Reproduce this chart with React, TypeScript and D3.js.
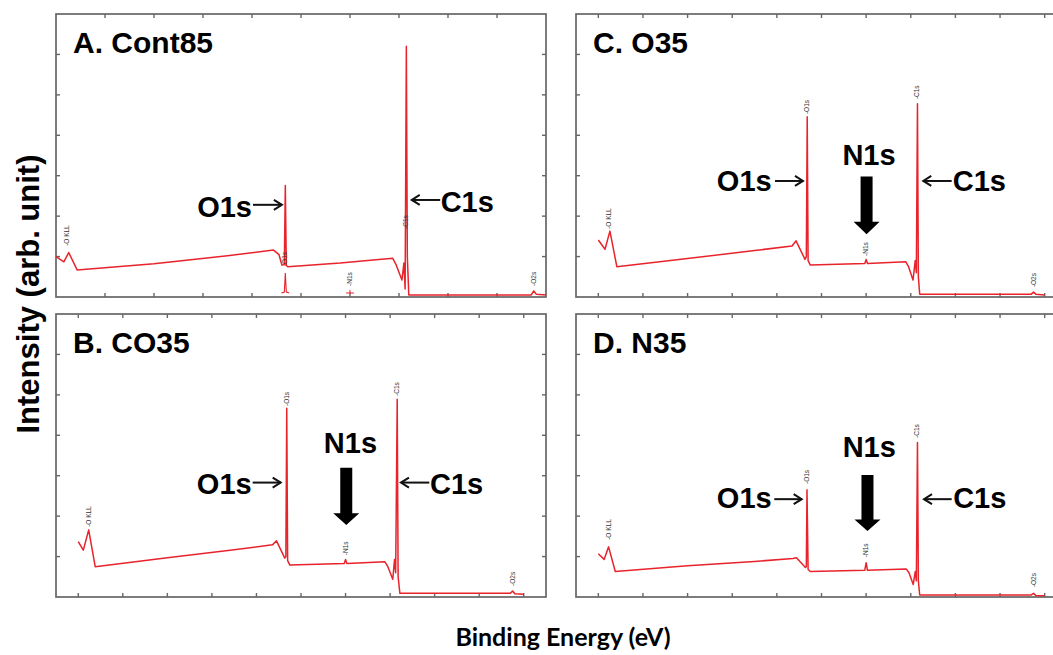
import React from "react";
import * as d3 from "d3";

type Pt = [number, number];

// ---- Data: [binding energy (eV), intensity (arb.)] ----
const specA: Pt[] = [
  [1000, 1.0], [984, 0.87], [974, 1.1], [957, 0.67], [800, 0.82], [650, 1.02], [556, 1.16], [545, 1.05],
  [539, 0.79], [534, 0.8], [532, 2.76], [530, 0.78], [527, 0.75], [420, 0.84], [313, 0.96], [306, 0.8],
  [294, 0.42], [290, 0.84], [287.5, 0.2], [285, 6.2], [283, 1.0], [280, 0.05], [30, 0.05], [25, 0.15],
  [20, 0.07], [0, 0.05],
];
const markA1: Pt[] = [[540, 0.1], [534, 0.12], [532, 0.59], [530, 0.12], [524, 0.1]];
const markA2: Pt[] = [[408, 0.1], [400, 0.1], [400, 0.17], [400, 0.1], [392, 0.1]];

const specB: Pt[] = [
  [1000, 1.37], [988.7, 1.16], [976.6, 1.66], [962, 0.75], [800, 0.97], [650, 1.17], [564, 1.29], [555, 1.39],
  [536.5, 0.96], [534, 1.0], [532, 4.67], [530, 0.9], [525, 0.79], [403, 0.83], [400, 0.93], [397, 0.83],
  [311.5, 0.87], [305, 0.75], [294, 0.44], [290, 0.93], [287.5, 0.6], [284, 4.89], [282, 0.5], [278, 0.09],
  [30, 0.09], [25, 0.15], [20, 0.08], [0, 0.07],
];

const specC: Pt[] = [
  [1000, 1.41], [985, 1.18], [974, 1.63], [958.5, 0.75], [800, 0.95], [650, 1.15], [566, 1.26], [557, 1.39],
  [537, 0.93], [534, 1.0], [532, 4.46], [530, 0.9], [525, 0.79], [403, 0.83], [400, 0.93], [397, 0.83],
  [311, 0.87], [305, 0.75], [295, 0.42], [290, 0.9], [287.5, 0.6], [285, 4.78], [283, 0.5], [280, 0.07],
  [30, 0.07], [25, 0.12], [20, 0.07], [0, 0.05],
];

const specD: Pt[] = [
  [1000, 1.07], [987, 0.93], [977, 1.24], [962, 0.63], [800, 0.77], [650, 0.88], [564, 0.95], [556, 0.97],
  [536, 0.73], [534, 0.75], [532.5, 2.65], [530, 0.68], [525, 0.63], [403, 0.66], [400, 0.85], [397, 0.66],
  [310, 0.69], [304, 0.6], [294.5, 0.31], [290, 0.63], [287.5, 0.4], [285, 3.82], [283, 0.4], [280, 0.05],
  [30, 0.05], [25, 0.09], [20, 0.04], [0, 0.03],
];

const peakNames = ["O KLL", "O1s", "N1s", "C1s", "O2s"];
const peakEnergies = [977, 532, 400, 285, 25];
const labelLevelA = [1.24, 0.74, 0.25, 1.66, 0.25];
const labelLevelB = [1.71, 4.7, 1.01, 4.95, 0.25];
const labelLevelC = [1.66, 4.5, 0.99, 4.87, 0.22];
const labelLevelD = [1.39, 2.77, 0.96, 3.91, 0.22];

const titles = ["A. Cont85", "B. CO35", "C. O35", "D. N35"];
const beTicks = [0, 100, 200, 300, 400, 500, 600, 700, 800, 900, 1000];
const intensityTicks = [1, 2, 3, 4, 5, 6];

// annotation anchors in data units
type Ann = {
  o1s: { textE: number; textI: number; arrowFrom: number; arrowTo: number; arrowI: number };
  c1s: { textE: number; textI: number; arrowFrom: number; arrowTo: number; arrowI: number };
  n1s: null | { textE: number; textI: number; arrowE: number; topI: number; neckI: number; tipI: number };
};
const annA: Ann = {
  o1s: { textE: 600, textI: 1.99, arrowFrom: 598, arrowTo: 539, arrowI: 2.28 },
  c1s: { textE: 215, textI: 2.11, arrowFrom: 216, arrowTo: 274, arrowI: 2.4 },
  n1s: null,
};
const annB: Ann = {
  o1s: { textE: 610.7, textI: 2.56, arrowFrom: 608.5, arrowTo: 545.6, arrowI: 2.83 },
  c1s: { textE: 210.5, textI: 2.56, arrowFrom: 212, arrowTo: 275.6, arrowI: 2.83 },
  n1s: { textE: 389, textI: 3.57, arrowE: 398.4, topI: 3.2, neckI: 2.07, tipI: 1.78 },
};
const annC: Ann = {
  o1s: { textE: 611.6, textI: 2.63, arrowFrom: 604.2, arrowTo: 541.5, arrowI: 2.87 },
  c1s: { textE: 206, textI: 2.63, arrowFrom: 208.4, arrowTo: 272, arrowI: 2.87 },
  n1s: { textE: 393.6, textI: 3.27, arrowE: 399, topI: 2.98, neckI: 1.86, tipI: 1.55 },
};
const annD: Ann = {
  o1s: { textE: 611.6, textI: 2.19, arrowFrom: 605.8, arrowTo: 544.4, arrowI: 2.42 },
  c1s: { textE: 205, textI: 2.19, arrowFrom: 208.4, arrowTo: 270.4, arrowI: 2.42 },
  n1s: { textE: 393, textI: 3.47, arrowE: 397, topI: 3.02, neckI: 1.92, tipI: 1.63 },
};

// ---- Layout ----
const W = 1053;
const H = 655;
const frames = [
  { x0: 56, x1: 546, y0: 14, y1: 297, dom: [1000, 0] },
  { x0: 56, x1: 546, y0: 314, y1: 597, dom: [1050, -50] },
  { x0: 576, x1: 1067, y0: 14, y1: 297, dom: [1050, -50] },
  { x0: 576, x1: 1067, y0: 314, y1: 597, dom: [1050, -50] },
];
const RED = "#e8232b";
const FRAME = "#666";
const BOLD = "'Liberation Sans', Arial, sans-serif";

function Arrow({ x1, x2, y }: { x1: number; x2: number; y: number }) {
  const dir = x2 > x1 ? 1 : -1;
  return (
    <g stroke="#111" strokeWidth={2} fill="none">
      <line x1={x1} y1={y} x2={x2} y2={y} />
      <path d={`M${x2 - dir * 8},${y - 5} L${x2},${y} L${x2 - dir * 8},${y + 5}`} />
    </g>
  );
}

function Panel({ idx, spec, marks, levels, ann }: { idx: number; spec: Pt[]; marks: Pt[][]; levels: number[]; ann: Ann }) {
  const f = frames[idx];
  const x = d3.scaleLinear().domain(f.dom).range([f.x0, f.x1]);
  const y = d3.scaleLinear().domain([0, 7]).range([f.y1, f.y0]);
  const line = d3.line<Pt>().x((d) => x(d[0])).y((d) => y(d[1]));
  const tl = 4;
  const xt = beTicks.filter((t) => x(t) > f.x0 + 1 && x(t) < f.x1 - 1);
  const n = ann.n1s;
  let bigArrow: React.ReactNode = null;
  if (n) {
    const cx = x(n.arrowE);
    const top = y(n.topI), neck = y(n.neckI), tip = y(n.tipI);
    bigArrow = (
      <path
        d={`M${cx - 6},${top} L${cx + 6},${top} L${cx + 6},${neck} L${cx + 13},${neck} L${cx},${tip} L${cx - 13},${neck} L${cx - 6},${neck} Z`}
        fill="#000"
      />
    );
  }
  return (
    <g>
      <rect x={f.x0} y={f.y0} width={f.x1 - f.x0} height={f.y1 - f.y0} fill="none" stroke={FRAME} strokeWidth={1.7} />
      {xt.map((t) => (
        <g key={"x" + t} stroke={FRAME} strokeWidth={1.4}>
          <line x1={x(t)} x2={x(t)} y1={f.y1} y2={f.y1 - tl} />
          <line x1={x(t)} x2={x(t)} y1={f.y0} y2={f.y0 + tl} />
        </g>
      ))}
      {intensityTicks.map((t) => (
        <g key={"y" + t} stroke={FRAME} strokeWidth={1.4}>
          <line x1={f.x0} x2={f.x0 + tl} y1={y(t)} y2={y(t)} />
          <line x1={f.x1} x2={f.x1 - tl} y1={y(t)} y2={y(t)} />
        </g>
      ))}
      <path d={line(spec) || ""} fill="none" stroke={RED} strokeWidth={1.5} strokeLinejoin="round" />
      {marks.map((m, i) => (
        <path key={i} d={line(m) || ""} fill="none" stroke={RED} strokeWidth={1.1} />
      ))}
      {peakNames.map((p, i) => (
        <text
          key={p}
          transform={`translate(${x(peakEnergies[i]) + 2},${y(levels[i]) - 1}) rotate(-90)`}
          fontFamily={BOLD}
          fontSize={6.5}
          fill="#333"
        >
          {"-" + p}
        </text>
      ))}
      <text x={f.x0 + 17} y={f.y0 + 39} fontFamily={BOLD} fontWeight="bold" fontSize={30} fill="#000">
        {titles[idx]}
      </text>
      <text x={x(ann.o1s.textE)} y={y(ann.o1s.textI)} textAnchor="end" fontFamily={BOLD} fontWeight="bold" fontSize={29}>
        O1s
      </text>
      <Arrow x1={x(ann.o1s.arrowFrom)} x2={x(ann.o1s.arrowTo)} y={y(ann.o1s.arrowI)} />
      <text x={x(ann.c1s.textE)} y={y(ann.c1s.textI)} textAnchor="start" fontFamily={BOLD} fontWeight="bold" fontSize={29}>
        C1s
      </text>
      <Arrow x1={x(ann.c1s.arrowFrom)} x2={x(ann.c1s.arrowTo)} y={y(ann.c1s.arrowI)} />
      {n && (
        <text x={x(n.textE)} y={y(n.textI)} textAnchor="middle" fontFamily={BOLD} fontWeight="bold" fontSize={29}>
          N1s
        </text>
      )}
      {bigArrow}
    </g>
  );
}

export default function App() {
  return (
    <svg width={W} height={H} style={{ position: "fixed", left: 0, top: 0, background: "#fff" }}>
      <rect x={0} y={0} width={W} height={H} fill="#fff" />
      <Panel idx={0} spec={specA} marks={[markA1, markA2]} levels={labelLevelA} ann={annA} />
      <Panel idx={1} spec={specB} marks={[]} levels={labelLevelB} ann={annB} />
      <Panel idx={2} spec={specC} marks={[]} levels={labelLevelC} ann={annC} />
      <Panel idx={3} spec={specD} marks={[]} levels={labelLevelD} ann={annD} />
      <text
        transform="translate(39,294) rotate(-90)"
        textAnchor="middle"
        fontFamily={BOLD}
        fontWeight="bold"
        fontSize={31}
      >
        Intensity (arb. unit)
      </text>
      <text x={563} y={646} textAnchor="middle" fontFamily="Lato, 'Open Sans', sans-serif" fontWeight="bold" fontSize={25}>
        Binding Energy (eV)
      </text>
    </svg>
  );
}
